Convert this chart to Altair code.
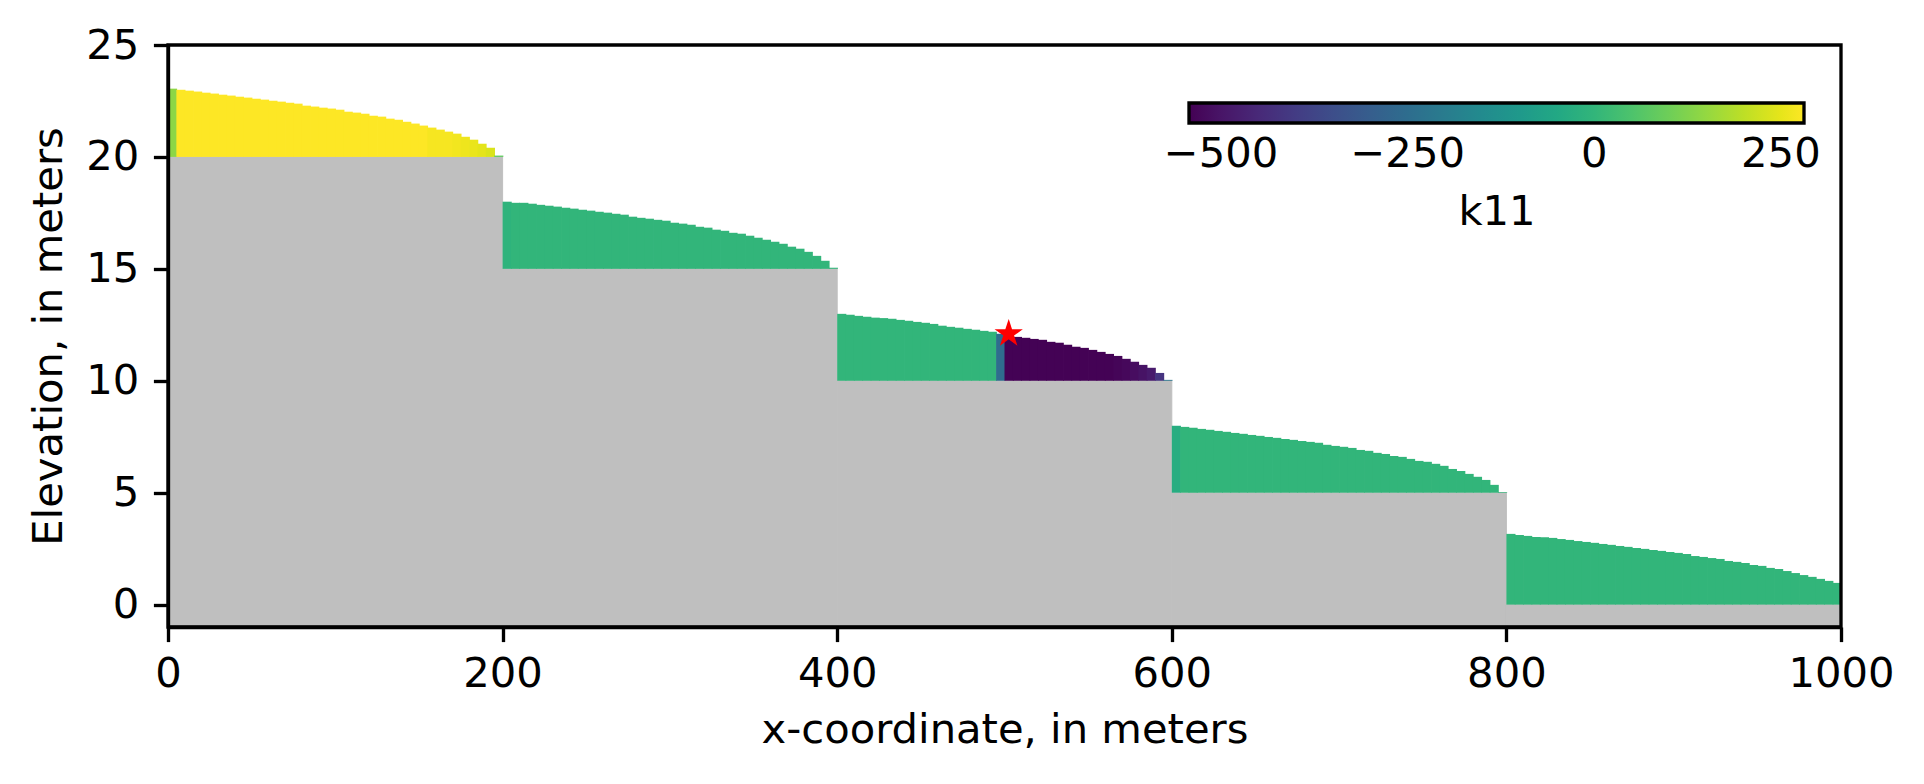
import altair as alt
import pandas as pd

# ---- data ----
seg_left = [0, 200, 400, 600, 800]
seg_right = [200, 400, 600, 800, 1000]
seg_bottom = [20, 15, 10, 5, 0]
cell_width = 5
ymin = -1

heads_1 = [23.05, 23.00, 22.96, 22.92, 22.87, 22.83, 22.78, 22.74, 22.69, 22.65,
           22.60, 22.56, 22.51, 22.47, 22.42, 22.38, 22.29, 22.25, 22.20, 22.16,
           22.11, 22.02, 21.98, 21.93, 21.84, 21.80, 21.71, 21.66, 21.57, 21.49,
           21.40, 21.31, 21.22, 21.13, 21.04, 20.90, 20.77, 20.59, 20.41, 20.06]
heads_2 = [18.00, 17.95, 17.95, 17.91, 17.86, 17.82, 17.78, 17.73, 17.69, 17.64,
           17.60, 17.55, 17.51, 17.46, 17.42, 17.33, 17.28, 17.24, 17.19, 17.15,
           17.06, 17.02, 16.97, 16.88, 16.84, 16.75, 16.70, 16.61, 16.57, 16.48,
           16.39, 16.30, 16.21, 16.12, 15.99, 15.90, 15.76, 15.58, 15.36, 15.05]
heads_3 = [12.99, 12.95, 12.90, 12.86, 12.82, 12.80, 12.77, 12.72, 12.68, 12.63,
           12.59, 12.54, 12.46, 12.41, 12.37, 12.32, 12.28, 12.23, 12.19, 12.10,
           12.05, 11.96, 11.92, 11.87, 11.83, 11.74, 11.70, 11.61, 11.52, 11.47,
           11.38, 11.29, 11.20, 11.11, 10.98, 10.85, 10.71, 10.58, 10.35, 10.04]
heads_4 = [7.99, 7.94, 7.90, 7.85, 7.81, 7.76, 7.72, 7.67, 7.63, 7.58,
           7.54, 7.49, 7.45, 7.40, 7.36, 7.31, 7.27, 7.23, 7.14, 7.09,
           7.05, 7.00, 6.91, 6.87, 6.78, 6.73, 6.64, 6.60, 6.51, 6.42,
           6.38, 6.29, 6.20, 6.06, 5.97, 5.84, 5.71, 5.57, 5.35, 5.03]
heads_5 = [3.16, 3.11, 3.07, 3.02, 3.01, 2.98, 2.93, 2.89, 2.84, 2.80,
           2.76, 2.71, 2.67, 2.62, 2.58, 2.53, 2.49, 2.44, 2.40, 2.35,
           2.31, 2.26, 2.17, 2.13, 2.08, 2.04, 1.95, 1.91, 1.86, 1.77,
           1.73, 1.64, 1.59, 1.50, 1.41, 1.32, 1.24, 1.15, 1.06, 0.97]

k11_1 = [140, 281, 281, 281, 281, 281, 281, 281, 281, 281,
         281, 281, 281, 281, 281, 281, 281, 281, 281, 281,
         281, 281, 281, 281, 281, 281, 281, 281, 281, 281,
         281, 272, 272, 272, 266, 260, 255, 247, 236, 80]
k11_2 = [-8, 0, 0, 0, 0, 0, 0, 0, 0, 0,
         0, 0, 0, 0, 0, 0, 0, 0, 0, 0,
         0, 0, 0, 0, 0, 0, 0, 0, 0, 0,
         0, 0, 0, 0, 0, 0, 0, 0, 0, 0]
k11_3 = [0, 0, 0, 0, 0, 0, 0, 0, 0, 0,
         0, 0, 0, 0, 0, 0, 0, 0, 0, -255,
         -540, -540, -540, -540, -540, -540, -540, -540, -540, -540,
         -540, -540, -540, -535, -528, -518, -505, -488, -420, -220]
k11_4 = [-30, 0, 0, 0, 0, 0, 0, 0, 0, 0,
         0, 0, 0, 0, 0, 0, 0, 0, 0, 0,
         0, 0, 0, 0, 0, 0, 0, 0, 0, 0,
         0, 0, 0, 0, 0, 0, 0, 0, 0, 0]
k11_5 = [0, 0, 0, 0, 0, 0, 0, 0, 0, 0,
         0, 0, 0, 0, 0, 0, 0, 0, 0, 0,
         0, 0, 0, 0, 0, 0, 0, 0, 0, 0,
         0, 0, 0, 0, 0, 0, 0, 0, 0, 0]

k11_domain = [-543, 281]
colorbar_ticks = [-500, -250, 0, 250]
star_x = [502.5]
star_y = [12.1]

# ---- build tables ----
rows = []
for s, (heads, kv) in enumerate(zip([heads_1, heads_2, heads_3, heads_4, heads_5],
                                    [k11_1, k11_2, k11_3, k11_4, k11_5])):
    for i, (h, k) in enumerate(zip(heads, kv)):
        x0 = seg_left[s] + i * cell_width
        rows.append({"x0": x0, "x1": x0 + cell_width, "bot": seg_bottom[s], "top": h, "k11": k})
cells = pd.DataFrame(rows)

ground = pd.DataFrame({"x0": seg_left, "x1": seg_right, "bot": [ymin] * 5, "top": seg_bottom})
star = pd.DataFrame({"x": star_x, "y": star_y})

W, H = 1673, 582
FS = 41.7
LW = 3.33

xscale = alt.Scale(domain=[0, 1000], nice=False, zero=False)
yscale = alt.Scale(domain=[-1, 25], nice=False, zero=False)
cscale = alt.Scale(domain=k11_domain, scheme="viridis", nice=False, zero=False)

xax = alt.Axis(values=[0, 200, 400, 600, 800, 1000], title="x-coordinate, in meters", format="d",
               labelPadding=12, labelFlush=False, titleBaseline="alphabetic", titleY=115, titleX=W / 2,
               zindex=1)
yax = alt.Axis(values=[0, 5, 10, 15, 20, 25], title="Elevation, in meters", format="d",
               labelPadding=14.6, labelFlush=False, titleBaseline="alphabetic", titleX=-107, titleY=H / 2,
               zindex=1)

ground_layer = alt.Chart(ground).mark_rect(color="#bfbfbf", stroke="#bfbfbf", strokeWidth=1).encode(
    x=alt.X("x0:Q", scale=xscale, axis=xax),
    x2="x1:Q",
    y=alt.Y("bot:Q", scale=yscale, axis=yax),
    y2="top:Q",
)

cell_layer = alt.Chart(cells).transform_calculate(
    x1o="datum.x1 + 0.45"
).mark_rect(clip=True).encode(
    x=alt.X("x0:Q", scale=xscale),
    x2="x1o:Q",
    y=alt.Y("bot:Q", scale=yscale),
    y2="top:Q",
    color=alt.Color("k11:Q", scale=cscale, title="k11",
                    legend=alt.Legend(type="gradient", values=colorbar_ticks, orient="none",
                                      legendX=1021, legendY=58,
                                      direction="horizontal", gradientLength=615, gradientThickness=20,
                                      labelFontSize=FS, titleFontSize=FS, titleFontWeight="normal",
                                      titleOrient="bottom", titleAnchor="middle", labelOffset=11,
                                      titlePadding=16, gradientStrokeColor="black",
                                      gradientStrokeWidth=LW, padding=0, labelOverlap=False,
                                      labelColor="black", titleColor="black")),
)

star_path = ("M0,-1L0.2245,-0.309L0.951,-0.309L0.3633,0.118L0.5878,0.809L0,0.382"
             "L-0.5878,0.809L-0.3633,0.118L-0.951,-0.309L-0.2245,-0.309Z")
star_layer = alt.Chart(star).mark_point(shape=star_path, filled=True, fill="red",
                                        stroke="red", strokeWidth=1.5, size=620, opacity=1).encode(
    x=alt.X("x:Q", scale=xscale),
    y=alt.Y("y:Q", scale=yscale),
)

frame = alt.Chart(pd.DataFrame({"a": [0]})).mark_rect(filled=False, stroke="black", strokeWidth=LW).encode(
    x=alt.value(0), x2=alt.value(W), y=alt.value(0), y2=alt.value(H)
)

chart = alt.layer(ground_layer, cell_layer, star_layer, frame).properties(
    width=W, height=H,
    autosize=alt.AutoSizeParams(type="none"),
    padding={"left": 168, "top": 45, "right": 83, "bottom": 157},
    background="white",
).configure(font="DejaVu Sans").configure_view(stroke=None).configure_axis(
    labelFontSize=FS, titleFontSize=FS, titleFontWeight="normal", labelColor="black",
    titleColor="black", tickSize=14.6, tickWidth=LW, tickColor="black", domainColor="black",
    domainWidth=LW, grid=False, labelFont="DejaVu Sans", titleFont="DejaVu Sans",
).configure_legend(labelFont="DejaVu Sans", titleFont="DejaVu Sans")

chart.save("out.html", embed_options={"renderer": "svg", "actions": False})
